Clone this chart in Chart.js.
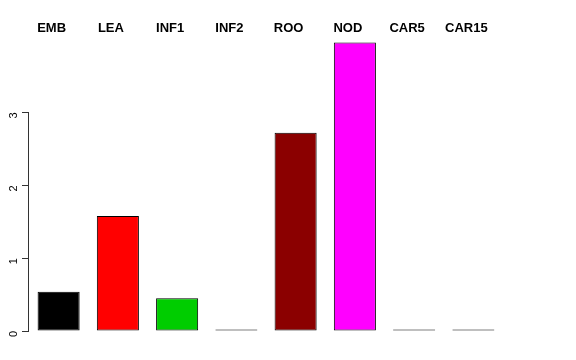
<!DOCTYPE html>
<html>
<head>
<meta charset="utf-8">
<script src="https://cdn.jsdelivr.net/npm/chart.js@4"></script>
<style>
	html, body { margin: 0; padding: 0; background: #fff; }
	#wrap { width: 576px; height: 360px; }
</style>
</head>
<body>
<div id="wrap"><canvas id="bars"></canvas></div>
<script>
const categories = ['EMB', 'LEA', 'INF1', 'INF2', 'ROO', 'NOD', 'CAR5', 'CAR15'];
const values = [0.54, 1.58, 0.45, 0, 2.72, 3.96, 0, 0];
const colors = ['#000000', '#ff0000', '#00cd00', '#0000ff', '#8b0000', '#ff00ff', '#00ffff', '#ffff00'];
const yTicks = [0, 1, 2, 3];

// R style axis line: only from first to last tick
const axisLine = {
	id: 'axisLine',
	afterDraw(chart) {
		const y = chart.scales.y;
		const ctx = chart.ctx;
		const x = Math.round(y.right) - 0.5;
		ctx.save();
		ctx.strokeStyle = '#333';
		ctx.lineWidth = 1;
		ctx.beginPath();
		ctx.moveTo(x, y.getPixelForValue(yTicks[0]));
		ctx.lineTo(x, y.getPixelForValue(yTicks[yTicks.length - 1]));
		ctx.stroke();
		ctx.restore();
	}
};

new Chart(document.getElementById('bars'), {
	type: 'bar',
	data: {
		labels: categories,
		datasets: [{
			data: values,
			backgroundColor: colors,
			borderColor: '#000',
			borderWidth: 1,
			borderSkipped: false,
			minBarLength: 1.5,
			barPercentage: 0.71,
			categoryPercentage: 1
		}]
	},
	options: {
		responsive: true,
		maintainAspectRatio: false,
		animation: false,
		devicePixelRatio: 1,
		layout: { padding: { top: 18, right: 73, bottom: 29, left: 0 } },
		plugins: { legend: { display: false }, tooltip: { enabled: false } },
		scales: {
			x: {
				position: 'top',
				grid: { display: false, drawTicks: false },
				border: { display: false },
				ticks: {
					color: '#000',
					font: { family: 'Liberation Sans', size: 13, weight: 'bold' },
					labelOffset: -7,
					padding: 3
				}
			},
			y: {
				min: 0,
				max: 4,
				afterBuildTicks: scale => { scale.ticks = yTicks.map(v => ({ value: v })); },
				afterFit: scale => { scale.width = 29; },
				grid: { drawOnChartArea: false, tickLength: 7, color: '#333' },
				border: { display: false },
				ticks: {
					color: '#000',
					font: { family: 'Liberation Sans', size: 11 },
					minRotation: 90,
					maxRotation: 90,
					padding: 8
				}
			}
		}
	},
	plugins: [axisLine]
});
</script>
</body>
</html>
